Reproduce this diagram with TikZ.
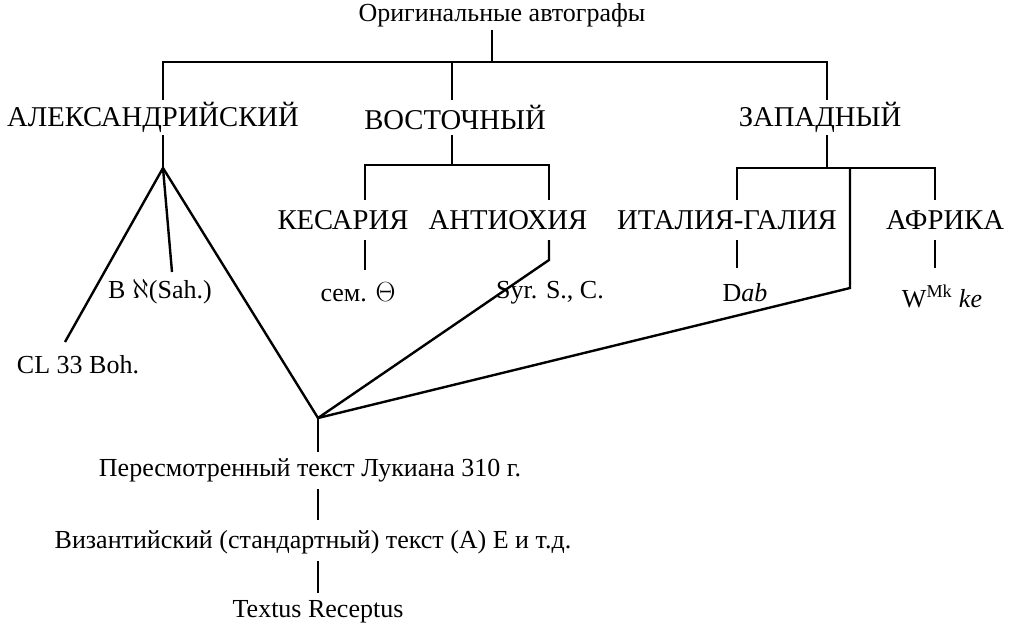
\documentclass[tikz,border=0pt]{standalone}
\usepackage{fontspec}
\setmainfont{Liberation Serif}
\begin{document}
\begin{tikzpicture}[x=0.75pt,y=-0.75pt,line width=1.8pt,
  sm/.style={font=\fontsize{19.5}{21}\selectfont,inner sep=1pt},
  bg/.style={font=\fontsize{21.5}{23}\selectfont,inner sep=1pt}]
\useasboundingbox (0,0) rectangle (1030,626);
\node[sm] (orig) at (502,15) {Оригинальные автографы};
\node[bg] (alex) at (153,117) {АЛЕКСАНДРИЙСКИЙ};
\node[bg] (east) at (455,117) {ВОСТОЧНЫЙ};
\node[bg] (west) at (820,117) {ЗАПАДНЫЙ};
\node[bg] (kes) at (343,220) {КЕСАРИЯ};
\node[bg] (ant) at (508,220) {АНТИОХИЯ};
\node[bg] (ita) at (727,220) {ИТАЛИЯ-ГАЛИЯ};
\node[bg] (afr) at (945,220) {АФРИКА};
\node[sm] (cl) at (78,365) {CL 33 Boh.};
\node[sm] (bs) at (160,292) {B $\aleph$(Sah.)};
\node[sm] (sem) at (358,292) {сем. $\Theta$};
\node[sm] (syr) at (550,293) {Syr. S., C.};
\node[sm] (dab) at (745,293) {D\textit{ab}};
\node[sm] (wmk) at (942,296) {W\textsuperscript{Mk} \textit{ke}};
\node[sm] (luk) at (310,470) {Пересмотренный текст Лукиана 310 г.};
\node[sm] (byz) at (313,542) {Византийский (стандартный) текст (А) Е и т.д.};
\node[sm] (tr) at (318,612) {Textus Receptus};
\coordinate (apex) at (318,418);
\coordinate (a1) at (163,168);
\coordinate (w1) at (850,168);
\draw (492,30) -- (492,62);
\draw (163,100) -- (163,62) -- (827,62) -- (827,100);
\draw (452,62) -- (452,100);
\draw (163,135) -- (a1);
\draw (a1) -- (65,342);
\draw (a1) -- (172,272);
\draw (a1) -- (apex);
\draw (452,135) -- (452,165);
\draw (365,200) -- (365,165) -- (549,165) -- (549,200);
\draw (365,240) -- (365,270);
\draw (549,240) -- (549,260) -- (apex);
\draw (827,135) -- (827,168);
\draw (737,200) -- (737,168) -- (935,168) -- (935,200);
\draw (737,240) -- (737,268);
\draw (935,240) -- (935,268);
\draw (w1) -- (850,288) -- (apex);
\draw (apex) -- (318,452);
\draw (318,489) -- (318,520);
\draw (318,561) -- (318,593);
\end{tikzpicture}
\end{document}
